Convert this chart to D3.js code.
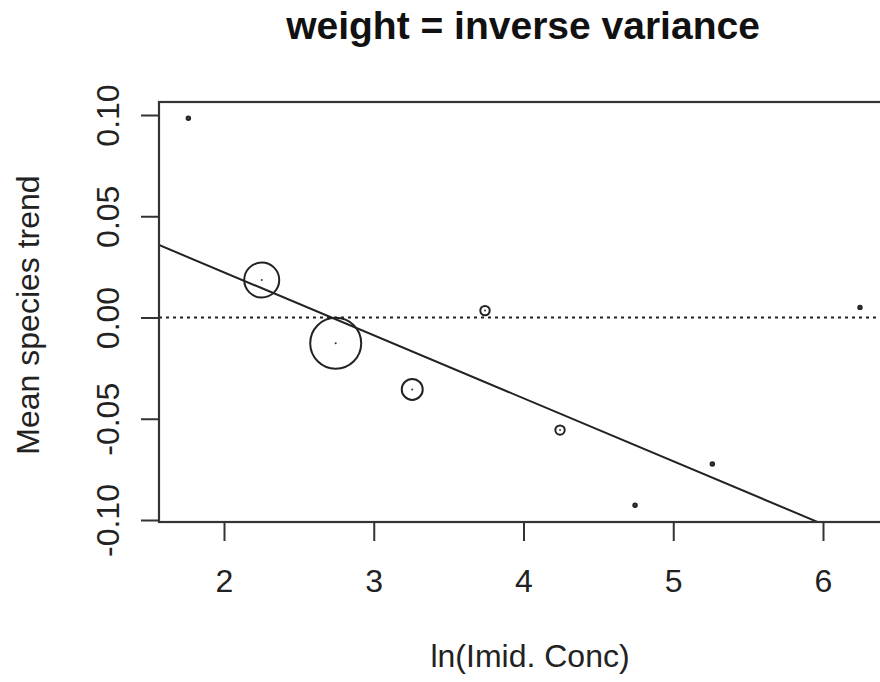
<!DOCTYPE html>
<html>
<head>
<meta charset="utf-8">
<script src="https://cdn.jsdelivr.net/npm/d3@7"></script>
<style>
  html, body { margin: 0; padding: 0; background: #fff; }
  svg { display: block; }
  text { font-family: "Liberation Sans", Arial, sans-serif; fill: #222; }
</style>
</head>
<body>
<svg id="chart" width="880" height="682"></svg>
<script>
// ---- data ----
const lnConc  = [1.762, 2.252, 2.746, 3.257, 3.743, 4.244, 4.745, 5.261, 6.247];
const trend   = [0.0984, 0.0185, -0.0127, -0.0355, 0.0034, -0.0556, -0.0927, -0.0723, 0.005];
const weights = [3, 306, 650, 110, 22, 22, 3, 3, 3];
const fitIntercept = 0.0845;
const fitSlope = -0.0311;
const xTicks = [2, 3, 4, 5, 6];
const yTicks = [-0.10, -0.05, 0.00, 0.05, 0.10];
const titleText = "weight = inverse variance";
const xLabel = "ln(Imid. Conc)";
const yLabel = "Mean species trend";

// ---- layout ----
const svg = d3.select("#chart");
const plot = { left: 159, top: 102, right: 884, bottom: 522 };
const x = d3.scaleLinear().domain([2, 6]).range([224, 823]);
const y = d3.scaleLinear().domain([-0.1, 0.1]).range([520, 115]);
const r = d3.scaleSqrt().domain([0, 650]).range([0, 25.5]);

svg.append("defs").append("clipPath").attr("id", "clip")
  .append("rect")
  .attr("x", plot.left).attr("y", plot.top)
  .attr("width", plot.right - plot.left).attr("height", plot.bottom - plot.top);

// title
svg.append("text")
  .attr("x", 523).attr("y", 39)
  .attr("text-anchor", "middle")
  .style("font-size", "39px").style("font-weight", "bold").style("fill", "#111")
  .text(titleText);

// x axis
const xAxis = d3.axisBottom(x).tickValues(xTicks).tickSize(19).tickPadding(28)
  .tickFormat(d3.format("d"));
const gx = svg.append("g").attr("transform", `translate(0,${plot.bottom})`).call(xAxis);
gx.select(".domain").remove();
gx.selectAll(".tick line").attr("stroke", "#333").attr("stroke-width", 2);
gx.selectAll(".tick text").style("font-size", "32px").attr("dy", "0.71em");

// y axis
const yAxis = d3.axisLeft(y).tickValues(yTicks).tickSize(18).tickPadding(0)
  .tickFormat(d3.format(".2f"));
const gy = svg.append("g").attr("transform", `translate(${plot.left},0)`).call(yAxis);
gy.select(".domain").remove();
gy.selectAll(".tick line").attr("stroke", "#333").attr("stroke-width", 2);
gy.selectAll(".tick text")
  .attr("x", 0).attr("dy", 0)
  .attr("text-anchor", "middle")
  .attr("transform", "translate(-40,0) rotate(-90)")
  .style("font-size", "32px")
  .text(d => d3.format(".2f")(d).replace("−", "-"));

// axis labels
svg.append("text")
  .attr("x", 530).attr("y", 667)
  .attr("text-anchor", "middle")
  .style("font-size", "32px")
  .text(xLabel);
svg.append("text")
  .attr("transform", `translate(39,315) rotate(-90)`)
  .attr("text-anchor", "middle")
  .style("font-size", "32px")
  .text(yLabel);

const g = svg.append("g").attr("clip-path", "url(#clip)");

// zero reference line (dotted)
g.append("line")
  .attr("x1", plot.left).attr("x2", plot.right)
  .attr("y1", y(0)).attr("y2", y(0))
  .attr("stroke", "#222").attr("stroke-width", 2)
  .attr("stroke-dasharray", "3,4");

// regression line
const x0 = x.invert(plot.left), x1 = x.invert(plot.right);
g.append("line")
  .attr("x1", x(x0)).attr("y1", y(fitIntercept + fitSlope * x0))
  .attr("x2", x(x1)).attr("y2", y(fitIntercept + fitSlope * x1))
  .attr("stroke", "#222").attr("stroke-width", 2);

// points
const pts = lnConc.map((v, i) => ({ x: v, y: trend[i], w: weights[i] }));
g.selectAll("circle.sym").data(pts).enter().append("circle")
  .attr("class", "sym")
  .attr("cx", d => x(d.x)).attr("cy", d => y(d.y))
  .attr("r", d => r(d.w))
  .attr("fill", "none").attr("stroke", "#222").attr("stroke-width", 2);
g.selectAll("circle.ctr").data(pts).enter().append("circle")
  .attr("class", "ctr")
  .attr("cx", d => x(d.x)).attr("cy", d => y(d.y))
  .attr("r", 1).attr("fill", "#333");

// plot box
svg.append("rect")
  .attr("x", plot.left).attr("y", plot.top)
  .attr("width", plot.right - plot.left).attr("height", plot.bottom - plot.top)
  .attr("fill", "none").attr("stroke", "#333").attr("stroke-width", 2.2);
</script>
</body>
</html>
